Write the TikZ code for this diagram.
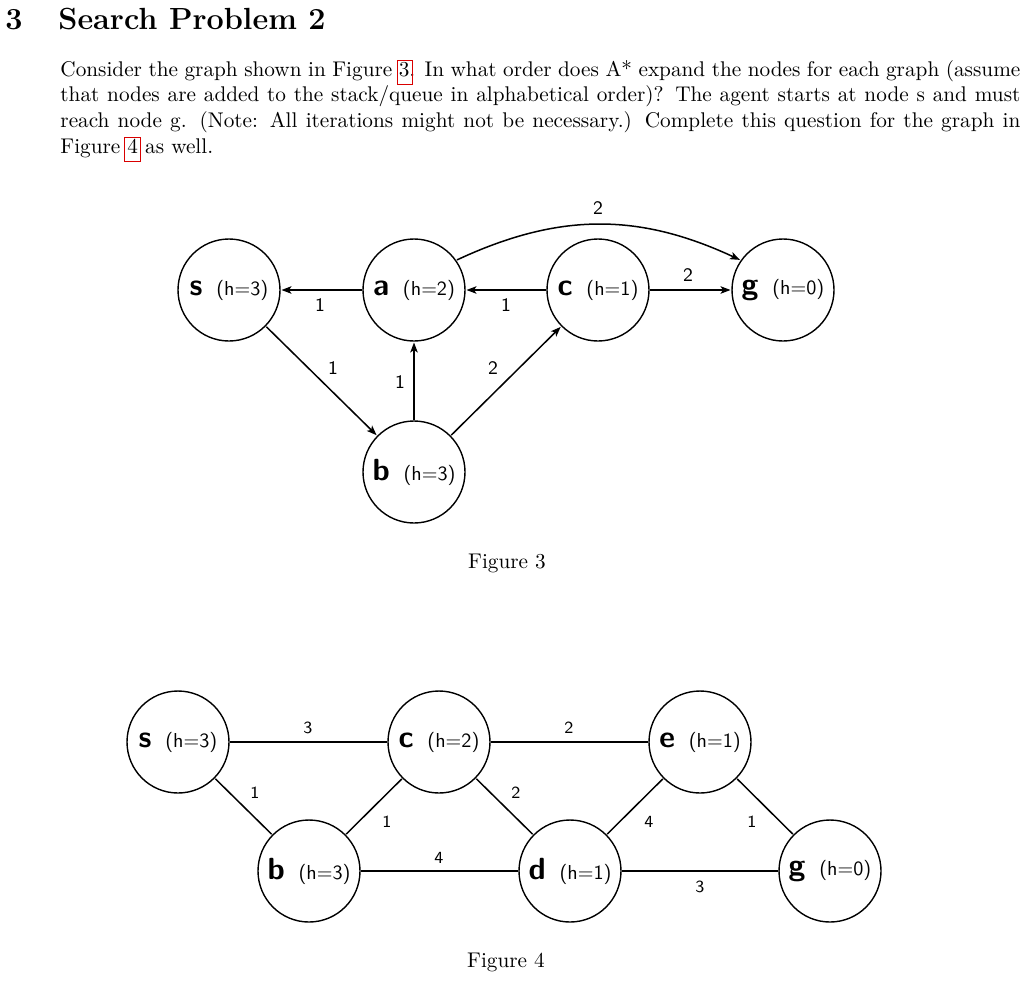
\documentclass[tikz,border=0pt]{standalone}
\usetikzlibrary{arrows.meta}
\newcommand\nl[2]{{\Large\bfseries #1}\hspace{6.5pt}{\fontsize{9.5}{11}\selectfont(h=#2)}}
\newcommand\jline[1]{\hbox to 451.76pt{#1}}
\tikzset{
  gnode/.style={circle, draw, line width=1.4pt, minimum size=48pt, inner sep=0pt, scale=2.125, font=\sffamily},
  txt/.style={inner sep=0pt, scale=2.125, font=\normalsize\rmfamily},
  edge/.style={line width=1.5pt},
  arr/.style={edge, -{Stealth[length=10pt,width=7.5pt,inset=2.5pt]}},
  lblA/.style={inner sep=0pt, scale=2.125, font=\sffamily\small},
  lblB/.style={inner sep=0pt, scale=2.125, font=\sffamily\footnotesize},
  linkbox/.style={draw=red!85!black, line width=0.7pt},
}
\begin{document}
\begin{tikzpicture}[x=1pt,y=1pt]
\useasboundingbox (0,0) rectangle (1024,-1001);
\fill[white] (0,0) rectangle (1024,-1001);
% heading
\node[txt, anchor=base west, font=\Large\bfseries] (hn) at (5,-29) {3};
\node[txt, anchor=base west, font=\Large\bfseries] (ht) at (58,-29) {Search Problem 2};
% paragraph
\node[txt, anchor=base west] (l1) at (60,-76) {\jline{Consider the graph shown in Figure 3. In what order does A* expand the nodes for each graph (assume}};
\node[txt, anchor=base west] (l2) at (60,-101.7) {\jline{that nodes are added to the stack/queue in alphabetical order)? The agent starts at node s and must}};
\node[txt, anchor=base west] (l3) at (60,-127.3) {\jline{reach node g. (Note: All iterations might not be necessary.) Complete this question for the graph in}};
\node[txt, anchor=base west] (l4) at (60,-153) {Figure 4 as well.};
\draw[linkbox] (397,-60.5) rectangle (412.5,-84);
\draw[linkbox] (124,-137.5) rectangle (140,-161);

% Figure 3
\node[gnode] (s) at (229,-290) {\nl{s}{3}};
\node[gnode] (a) at (414,-290) {\nl{a}{2}};
\node[gnode] (c) at (598,-290) {\nl{c}{1}};
\node[gnode] (g) at (783,-290) {\nl{g}{0}};
\node[gnode] (b) at (414,-472) {\nl{b}{3}};
\draw[arr] (a) -- (s);
\draw[arr] (c) -- (a);
\draw[arr] (c) -- (g);
\draw[arr] (a.35) .. controls +(25:112) and +(155:112) .. (g.145);
\draw[arr] (s) -- (b);
\draw[arr] (b) -- (a);
\draw[arr] (b) -- (c);
\node[lblA] (w1) at (320,-305) {1};
\node[lblA] (w2) at (506,-305) {1};
\node[lblA] (w3) at (688,-275) {2};
\node[lblA] (w4) at (598,-208) {2};
\node[lblA] (w5) at (333,-368) {1};
\node[lblA] (w6) at (400,-382) {1};
\node[lblA] (w7) at (493,-368) {2};
\node[txt, anchor=base] (cap3) at (507,-568) {Figure 3};

% Figure 4
\node[gnode] (s4) at (178,-742) {\nl{s}{3}};
\node[gnode] (c4) at (439,-742) {\nl{c}{2}};
\node[gnode] (e4) at (700,-742) {\nl{e}{1}};
\node[gnode] (b4) at (309,-871) {\nl{b}{3}};
\node[gnode] (d4) at (570,-871) {\nl{d}{1}};
\node[gnode] (g4) at (830,-871) {\nl{g}{0}};
\draw[edge] (s4) -- (c4);
\draw[edge] (c4) -- (e4);
\draw[edge] (s4) -- (b4);
\draw[edge] (b4) -- (c4);
\draw[edge] (c4) -- (d4);
\draw[edge] (b4) -- (d4);
\draw[edge] (d4) -- (e4);
\draw[edge] (e4) -- (g4);
\draw[edge] (d4) -- (g4);
\node[lblB] (v1) at (308,-728) {3};
\node[lblB] (v2) at (569,-728) {2};
\node[lblB] (v3) at (255,-793) {1};
\node[lblB] (v4) at (387,-822) {1};
\node[lblB] (v5) at (516,-793) {2};
\node[lblB] (v6) at (439,-858) {4};
\node[lblB] (v7) at (649,-822) {4};
\node[lblB] (v8) at (752,-822) {1};
\node[lblB] (v9) at (700,-887) {3};
\node[txt, anchor=base] (cap4) at (506,-967) {Figure 4};
\end{tikzpicture}
\end{document}
